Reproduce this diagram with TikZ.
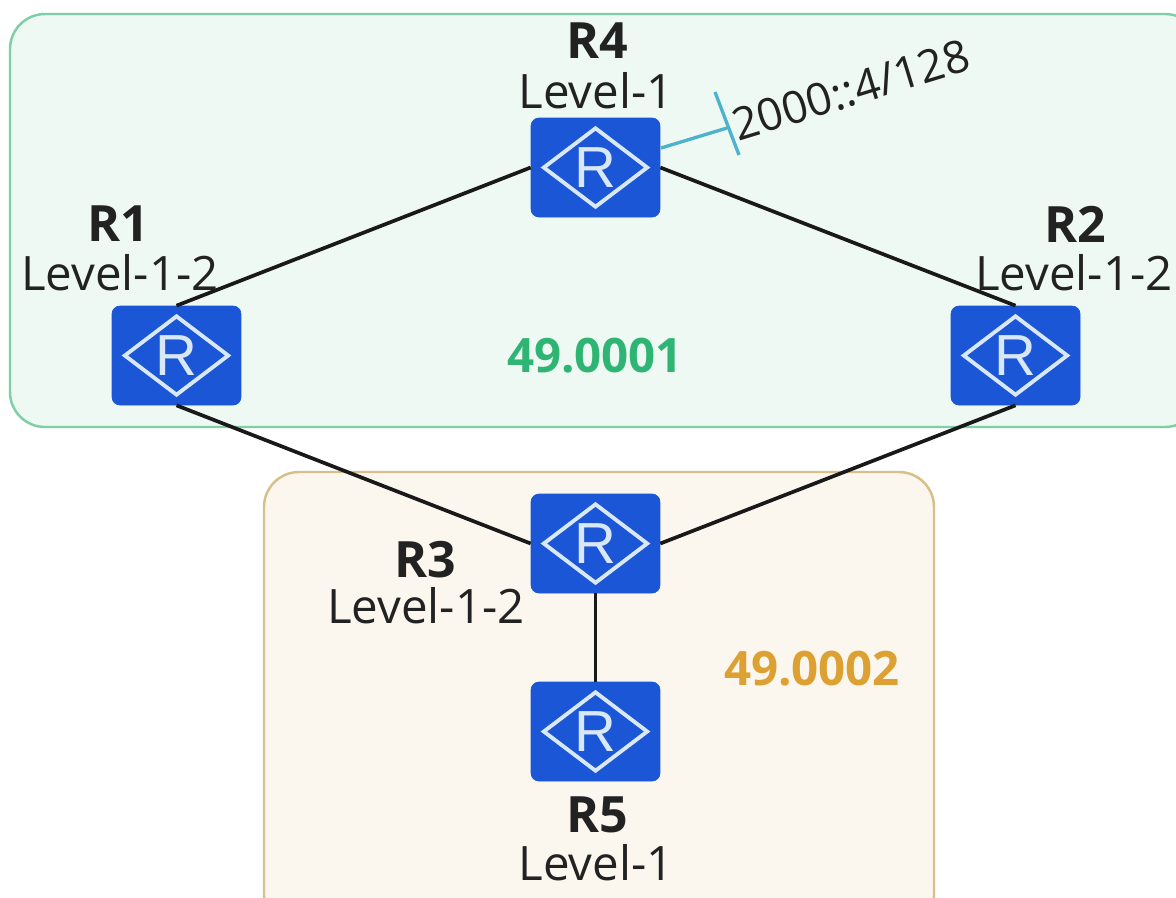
\documentclass[tikz,border=0pt]{standalone}
\usepackage{fontspec}
\setmainfont{Open Sans}
\newfontfamily\routerfont{Liberation Sans}
\usetikzlibrary{shapes.geometric}
\definecolor{greenfill}{HTML}{EFF9F4}
\definecolor{greenline}{HTML}{7FCFA6}
\definecolor{orangefill}{HTML}{FCF7EE}
\definecolor{orangeline}{HTML}{D9BE8A}
\definecolor{routerblue}{HTML}{1A56D6}
\definecolor{routerwhite}{HTML}{D8E8F8}
\definecolor{linkteal}{HTML}{4DB3CC}
\definecolor{areagreen}{HTML}{2FB573}
\definecolor{areaorange}{HTML}{DDA032}
\definecolor{textdark}{HTML}{222222}
\tikzset{
  x=0.02cm,y=-0.02cm,
  routerbox/.style={fill=routerblue,draw=routerblue,rounded corners=0.16cm,minimum width=2.58cm,minimum height=1.98cm,inner sep=0pt,line width=0.4pt},
  routermark/.style={diamond,draw=routerwhite,line width=2.2pt,minimum width=2.1cm,minimum height=1.6cm,inner sep=0pt,aspect=1.3,text=routerwhite,font=\routerfont\fontsize{33}{33}\selectfont},
  namelabel/.style={font=\fontsize{28.5}{30}\selectfont\bfseries,text=textdark,inner sep=0pt},
  levellabel/.style={font=\fontsize{27}{30}\selectfont,text=textdark,inner sep=0pt},
  arealabel/.style={font=\fontsize{27}{30}\selectfont\bfseries,inner sep=0pt},
  addrlabel/.style={font=\fontsize{25.5}{30}\selectfont,text=textdark,inner sep=0pt},
  link/.style={line width=2.1pt,draw=black!90},
  stublink/.style={line width=1.9pt,draw=linkteal},
}
\begin{document}
\begin{tikzpicture}
\useasboundingbox (0,0) rectangle (1176,897);
\fill[white] (0,0) rectangle (1176,897);
\begin{scope}
\clip (0,0) rectangle (1176,897);
\draw[fill=greenfill,draw=greenline,line width=1.4pt,rounded corners=0.7cm] (10,14) rectangle (1200,427);
\draw[fill=orangefill,draw=orangeline,line width=1.4pt,rounded corners=0.7cm] (264,472) rectangle (934,930);
\end{scope}
\node[routerbox] (R4) at (595.5,167.5) {};
\node[routerbox] (R1) at (176.5,355.5) {};
\node[routerbox] (R2) at (1015.5,355.5) {};
\node[routerbox] (R3) at (595.5,543.5) {};
\node[routerbox] (R5) at (595.5,731.5) {};
\node[routermark] (M4) at (R4) {R};
\node[routermark] (M1) at (R1) {R};
\node[routermark] (M2) at (R2) {R};
\node[routermark] (M3) at (R3) {R};
\node[routermark] (M5) at (R5) {R};
\draw[link] (R4.west) -- (R1.north);
\draw[link] (R4.east) -- (R2.north);
\draw[link] (R1.south) -- (R3.west);
\draw[link] (R2.south) -- (R3.east);
\draw[link] (R3.south) -- (R5.north);
\coordinate (S0) at (661,148);
\coordinate (S1) at (727,128);
\coordinate (B0) at (715,92);
\coordinate (B1) at (739,155);
\draw[stublink] (S0) -- (S1);
\draw[stublink] (B0) -- (B1);
\node[namelabel] (N4) at (597,41) {R4};
\node[levellabel] (L4) at (596,91) {Level-1};
\node[namelabel] (N1) at (118,224) {R1};
\node[levellabel] (L1) at (120,273) {Level-1-2};
\node[namelabel] (N2) at (1075,224) {R2};
\node[levellabel] (L2) at (1074,273) {Level-1-2};
\node[namelabel] (N3) at (425,560) {R3};
\node[levellabel] (L3) at (426,606) {Level-1-2};
\node[namelabel] (N5) at (597,815) {R5};
\node[levellabel] (L5) at (596,863) {Level-1};
\node[arealabel,text=areagreen] (A1) at (595,356) {49.0001};
\node[arealabel,text=areaorange] (A2) at (812,669) {49.0002};
\node[addrlabel,rotate=17] (P) at (851,90) {2000::4/128};
\end{tikzpicture}
\end{document}
